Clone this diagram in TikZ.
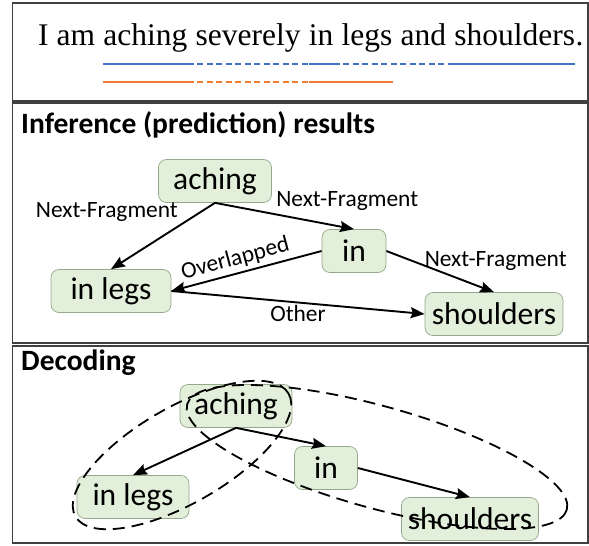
\documentclass[tikz,border=0pt]{standalone}
\usepackage{fontspec}
\setmainfont{Carlito}
\newfontfamily\sentfont{Liberation Serif}
\usetikzlibrary{arrows.meta}

\definecolor{fragfill}{RGB}{226,239,218}
\definecolor{fragline}{RGB}{150,168,140}
\definecolor{spanblue}{RGB}{68,114,196}
\definecolor{spanorange}{RGB}{237,125,49}
\definecolor{panelline}{RGB}{64,64,64}

\begin{document}
\begin{tikzpicture}[x=1pt,y=-1pt,>={Stealth[length=14pt,width=11pt,inset=2pt]},auto]
	\tikzstyle{panel}=[draw=panelline, line width=1.3pt]
	\tikzstyle{word}=[inner sep=0pt, anchor=base west, font=\sentfont\fontsize{31.5}{36}\selectfont]
	\tikzstyle{heading}=[anchor=west, inner sep=0pt, font=\bfseries\fontsize{29.5}{34}\selectfont]
	\tikzstyle{frag}=[rectangle, rounded corners=8pt, draw=fragline, line width=0.7pt, fill=fragfill, minimum height=43pt, inner sep=0pt, font=\fontsize{31.5}{36}\selectfont]
	\tikzstyle{rel}=[->, line width=1.9pt]
	\tikzstyle{rellabel}=[font=\fontsize{23.4}{27}\selectfont, inner sep=2pt]
	\tikzstyle{span}=[line width=2.6pt]
	\tikzstyle{gap}=[span, dash pattern=on 6pt off 3.5pt]
	\tikzstyle{group}=[line width=1.8pt, dash pattern=on 12pt off 7pt]

	\useasboundingbox (0,0) rectangle (589,546);

	% frames
	\draw[panel] (12.5,3) rectangle (588,101);
	\draw[panel] (12.5,103) rectangle (588,343);
	\draw[panel] (12.5,346) rectangle (588,543);

	% sentence and its fragments
	\node[word] (wiam) at (38,45) {I am};
	\node[word] (wach) at ([xshift=7.9pt]wiam.base east) {aching};
	\node[word] (wsev) at ([xshift=7.9pt]wach.base east) {severely};
	\node[word] (win) at ([xshift=7.9pt]wsev.base east) {in};
	\node[word] (wleg) at ([xshift=7.9pt]win.base east) {legs};
	\node[word] (wand) at ([xshift=7.9pt]wleg.base east) {and};
	\node[word] (wsho) at ([xshift=7.9pt]wand.base east) {shoulders};
	\node[word] (wdot) at (wsho.base east) {.};

	\coordinate (bluerow) at (0,64);
	\coordinate (orangerow) at (0,82);
	\draw[span, spanblue] (wach.base west |- bluerow) -- (wach.base east |- bluerow);
	\draw[gap, spanblue] (wach.base east |- bluerow) -- (win.base west |- bluerow);
	\draw[span, spanblue] (win.base west |- bluerow) -- (win.base east |- bluerow);
	\draw[gap, spanblue] (win.base east |- bluerow) -- (wsho.base west |- bluerow);
	\draw[span, spanblue] (wsho.base west |- bluerow) -- (wsho.base east |- bluerow);
	\draw[span, spanorange] (wach.base west |- orangerow) -- (wach.base east |- orangerow);
	\draw[gap, spanorange] (wach.base east |- orangerow) -- (win.base west |- orangerow);
	\draw[span, spanorange] (win.base west |- orangerow) -- (wleg.base east |- orangerow);

	% inference
	\node[heading] (infttl) at (21,125) {Inference (prediction) results};
	\node[frag, minimum width=113pt] (ach) at (215,181) {aching};
	\node[frag, minimum width=64pt] (in) at (354,251) {in};
	\node[frag, minimum width=120pt] (inl) at (111,291) {in legs};
	\node[frag, minimum width=138pt] (sho) at (494,314) {shoulders};

	\draw[rel] (ach.south) -- node[rellabel, pos=0.33, above left] {Next-Fragment} (inl.north);
	\draw[rel] (ach.south) -- node[rellabel, pos=0.42, above right] {Next-Fragment} (in.north);
	\draw[rel, <-] (inl.east) -- node[rellabel, pos=0.45, sloped, above, inner sep=3.5pt] {Overlapped} (in.west);
	\draw[rel] (inl.east) -- node[rellabel, below] {Other} (sho.west);
	\draw[rel] (in.east) -- node[rellabel, pos=0.33, right, yshift=4pt] {Next-Fragment} (sho.north);

	% decoding
	\node[heading] (decttl) at (21,363) {Decoding};
	\node[frag, minimum width=112pt] (ach2) at (236,406) {aching};
	\node[frag, minimum width=63pt] (in2) at (326,468) {in};
	\node[frag, minimum width=112pt] (inl2) at (133,497) {in legs};
	\node[frag, minimum width=137pt] (sho2) at (470,519) {shoulders};

	\draw[rel] (ach2.south) -- (inl2.north);
	\draw[rel] (ach2.south) -- (in2.north);
	\draw[rel] (in2.east) -- (sho2.north);

	\draw[group, rotate around={30:(182,455)}] (182,455) ellipse [x radius=123pt, y radius=48pt];
	\draw[group, rotate around={-15.5:(377,457)}] (377,457) ellipse [x radius=197pt, y radius=51pt];
\end{tikzpicture}
\end{document}
